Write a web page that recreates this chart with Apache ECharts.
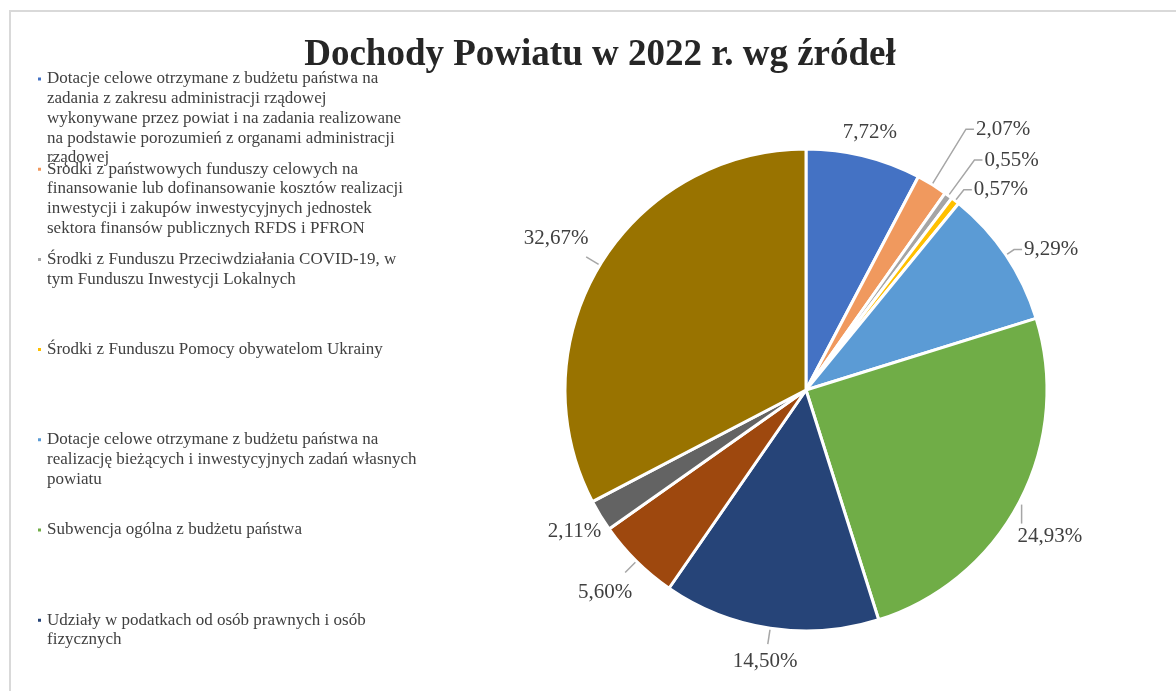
<!DOCTYPE html>
<html>
<head>
<meta charset="utf-8">
<script src="https://cdn.jsdelivr.net/npm/echarts@6/dist/echarts.min.js"></script>
<style>
  html, body { margin: 0; padding: 0; background: #fff; overflow: hidden; }
  #frame {
    position: absolute; left: 9px; top: 10px; width: 1300px; height: 800px;
    border: 2px solid #d9d9d9; box-sizing: border-box;
  }
  #chart { position: absolute; left: 0; top: 0; width: 1176px; height: 691px; }
</style>
</head>
<body>
<div id="frame"></div>
<div id="chart"></div>
<script>
/* ================================
   DATA
================================ */
const categories = [
  "Dotacje celowe otrzymane z budżetu państwa na\nzadania z zakresu administracji rządowej\nwykonywane przez powiat i na zadania realizowane\nna podstawie porozumień z organami administracji\nrządowej",
  "Środki z państwowych funduszy celowych na\nfinansowanie lub dofinansowanie kosztów realizacji\ninwestycji i zakupów inwestycyjnych jednostek\nsektora finansów publicznych RFDS i PFRON",
  "Środki z Funduszu Przeciwdziałania COVID-19, w\ntym Funduszu Inwestycji Lokalnych",
  "Środki z Funduszu Pomocy obywatelom Ukrainy",
  "Dotacje celowe otrzymane z budżetu państwa na\nrealizację bieżących i inwestycyjnych zadań własnych\npowiatu",
  "Subwencja ogólna z budżetu państwa",
  "Udziały w podatkach od osób prawnych i osób\nfizycznych",
  "Dochody własne - pozostałe",
  "Pozostałe dochody",
  "Udziały w podatkach - dochody własne"
];
const shares = [7.72, 2.07, 0.55, 0.57, 9.29, 24.93, 14.50, 5.60, 2.11, 32.67];
const colors = ["#4472C4", "#F0995E", "#A5A5A5", "#FFC000", "#5B9BD5",
                "#70AD47", "#264478", "#9E480E", "#636363", "#997300"];

// only the first 7 entries fit in the legend area
const legendCount = 7;

/* ================================
   LAYOUT SETTINGS
================================ */
const pieCenter = [806, 390];
const pieRadius = 241;
// leader line per slice: length, hidden, and label mode
//  radial = label continues outward, side = short horizontal tail then label,
//  below = vertical line with label underneath
const leaderLength = [6, 65, 44, 14, 10, 22, 16, 16, 0, 16];
const leaderHidden = [true, false, false, false, false, false, false, false, true, false];
const labelMode = ["radial", "side", "side", "side", "side",
                   "below", "radial", "radial", "radial", "radial"];

const chart = echarts.init(document.getElementById("chart"));
const serif = "'Liberation Serif', 'Times New Roman', serif";
const lineH = 19.7;

/* ================================
   LEGENDS (one per entry, marker on first line)
================================ */
const legends = [];
for (let i = 0; i < legendCount; i++) {
  const lines = categories[i].split("\n").length;
  const firstLine = 79 + i * 90.2;
  legends.push({
    orient: "vertical",
    left: 36,
    top: firstLine - (2 * lines - 1) * lineH / 2,
    padding: 0,
    icon: "rect",
    itemWidth: 5,
    itemHeight: 5,
    itemGap: 0,
    data: [categories[i]],
    selectedMode: false,
    formatter: name => "\n".repeat(lines - 1) + name,
    textStyle: {
      fontFamily: serif,
      fontSize: 17,
      color: "#404040",
      lineHeight: lineH
    }
  });
}

/* ================================
   LABEL PLACEMENT (Excel-like)
================================ */
const placed = {};

function overlaps(a, x, y, hw, hh) {
  return Math.abs(a.x - x) < a.hw + hw && Math.abs(a.y - y) < a.hh + hh;
}

function layoutLabel(params) {
  const i = params.dataIndex;
  const pts = params.labelLinePoints;
  if (!pts) return {};
  const p0 = pts[0];
  let dx = p0[0] - pieCenter[0];
  let dy = p0[1] - pieCenter[1];
  const len = Math.hypot(dx, dy);
  dx /= len; dy /= len;

  const hw = params.labelRect.width / 2;
  const hh = params.labelRect.height / 2;
  const L = leaderLength[i];
  let x, y, points;

  if (labelMode[i] === "side") {
    const p1 = [p0[0] + dx * L, p0[1] + dy * L];
    const side = dx < 0 ? -1 : 1;
    const p2 = [p1[0] + side * 8, p1[1]];
    x = p2[0] + side * (hw + 2);
    y = p2[1];
    points = [p0, p1, p2];
  } else if (labelMode[i] === "below") {
    const p1 = [p0[0] + 2, p0[1] + L];
    x = p1[0] + hw - 4;
    y = p1[1] + hh + 2;
    points = [[p1[0], p0[1] + 3], p1];
  } else {
    const p1 = [p0[0] + dx * L, p0[1] + dy * L];
    const ext = hw * Math.abs(dx) + hh * Math.abs(dy) + 2;
    x = p1[0] + dx * ext;
    y = p1[1] + dy * ext;
    points = [p0, p1];
  }

  // move down until clear of earlier labels
  let shifted = false;
  for (let g = 0; g < 200; g++) {
    const hit = Object.keys(placed).some(k => +k < i && overlaps(placed[k], x, y, hw, hh));
    if (!hit) break;
    y += 2;
    shifted = true;
  }
  if (shifted) points = [p0, [x - hw - 10, y], [x - hw - 2, y]];
  placed[i] = { x, y, hw, hh };

  return { x, y, align: "center", verticalAlign: "middle", labelLinePoints: points };
}

/* ================================
   CHART
================================ */
chart.setOption({
  animation: false,
  color: colors,
  title: {
    text: "Dochody Powiatu w 2022 r. wg źródeł",
    left: 595,
    textAlign: "center",
    top: 32,
    textStyle: { fontFamily: serif, fontSize: 37, fontWeight: "bold", color: "#262626" }
  },
  legend: legends,
  series: [{
    type: "pie",
    center: pieCenter,
    radius: pieRadius,
    startAngle: 90,
    clockwise: true,
    avoidLabelOverlap: false,
    itemStyle: { borderColor: "#fff", borderWidth: 3 },
    label: {
      position: "outside",
      fontFamily: serif,
      fontSize: 21,
      color: "#404040",
      formatter: p => p.value.toFixed(2).replace(".", ",") + "%"
    },
    labelLine: {
      length: 16,
      length2: 6,
      lineStyle: { color: "#A6A6A6", width: 1.5 }
    },
    labelLayout: layoutLabel,
    data: categories.map((c, i) => ({
      name: c,
      value: shares[i],
      labelLine: leaderHidden[i] ? { lineStyle: { opacity: 0 } } : undefined
    }))
  }]
});
</script>
</body>
</html>
